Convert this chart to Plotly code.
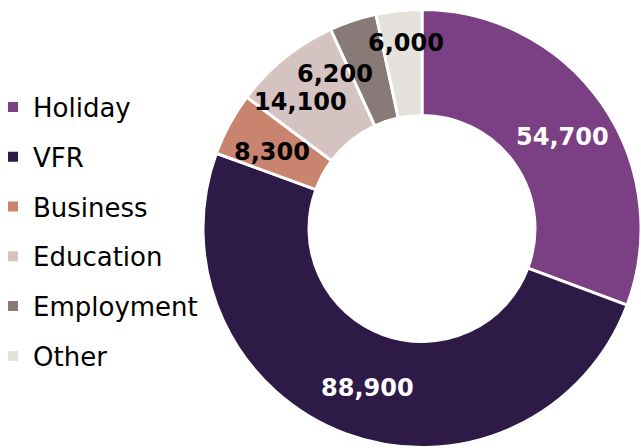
import math
import plotly.graph_objects as go

categories = ["Holiday", "VFR", "Business", "Education", "Employment", "Other"]
values = [54700, 88900, 8300, 14100, 6200, 6000]
colors = ["#7B4084", "#2E1A47", "#C98470", "#D4C3C0", "#877A77", "#E5E1DD"]
text_colors = ["white", "white", "black", "black", "black", "black"]

# data-label placement style (like the original chart's labels):
# angle nudge from the slice mid-angle (deg) and radius (px)
label_nudge = [1.6, -1.5, -1.5, -5, -11, 1]
label_radius = [168, 168, 168, 175, 177, 186]

W, H = 641, 448
cx, cy, R = 422, 228.5, 219  # pie centre and radius (px)

fig = go.Figure()

fig.add_trace(go.Pie(
    labels=categories,
    values=values,
    sort=False,
    direction="clockwise",
    rotation=0,
    hole=0.516,
    marker=dict(colors=colors, line=dict(color="white", width=3)),
    textinfo="none",
    showlegend=False,
    domain=dict(x=[(cx - R) / W, min(1.0, (cx + R) / W)], y=[1 - (cy + R) / H, 1 - (cy - R) / H]),
))

# data labels at each slice's angle
total = sum(values)
cum = 0
for v, nud, rad, tc in zip(values, label_nudge, label_radius, text_colors):
    mid = (cum + v / 2) / total * 360
    cum += v
    ang = math.radians(mid + nud)
    px = cx + rad * math.sin(ang)
    py = cy - rad * math.cos(ang)
    fig.add_annotation(
        x=px / W, y=1 - py / H, xref="paper", yref="paper",
        text=f"{v:,}", showarrow=False, xanchor="center", yanchor="middle",
        font=dict(family="DejaVu Sans", size=24, weight="bold", color=tc),
    )

# legend entries (one group each so spacing can be set)
for name, col in zip(categories, colors):
    fig.add_trace(go.Scatter(
        x=[None], y=[None], mode="markers", name=name, legendgroup=name,
        marker=dict(symbol="square", size=10, color=col),
    ))

fig.update_layout(
    width=W, height=H,
    margin=dict(l=0, r=0, t=0, b=0, autoexpand=False),
    paper_bgcolor="white", plot_bgcolor="white",
    xaxis=dict(visible=False), yaxis=dict(visible=False),
    legend=dict(
        x=-7 / W, y=1 - 231.5 / H, xanchor="left", yanchor="middle",
        font=dict(family="DejaVu Sans", size=26, color="#000000"),
        tracegroupgap=13, itemclick=False,
        bgcolor="rgba(0,0,0,0)",
    ),
)

fig.write_html(
    "out.html",
    config={"displayModeBar": False},
    post_script="document.body.style.margin='0';document.body.style.overflow='hidden';",
)
